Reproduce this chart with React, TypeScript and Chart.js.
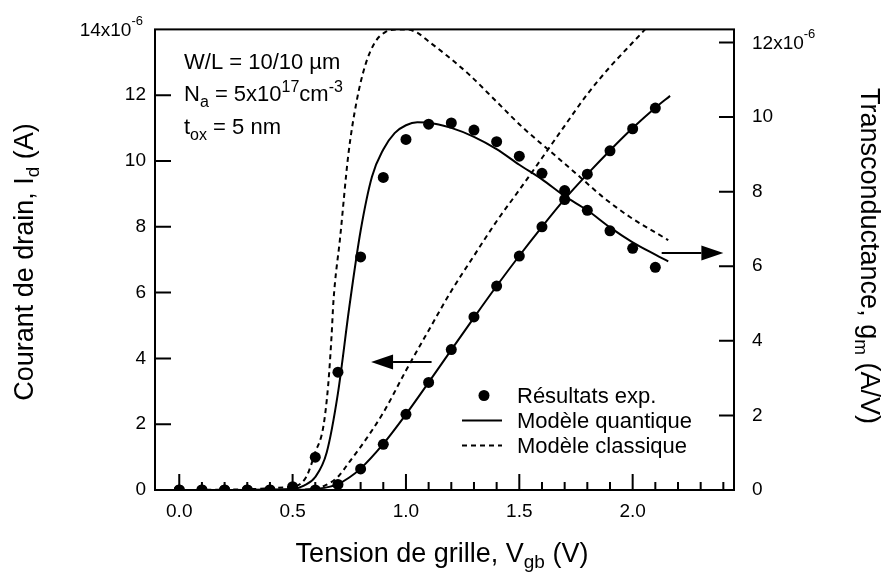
import React, { useEffect, useRef } from "react";
import { Chart, registerables } from "chart.js";

Chart.register(...registerables);

const FONT = '"Liberation Sans", Arial, Helvetica, sans-serif';

// ---------- data ----------
const expVgb = [0.0, 0.1, 0.2, 0.3, 0.4, 0.5, 0.6, 0.7, 0.8, 0.9, 1.0, 1.1, 1.2, 1.3, 1.4, 1.5, 1.6, 1.7, 1.8, 1.9, 2.0, 2.1];
const expId = [0, 0, 0, 0, 0, 0, 0, 0.17, 0.64, 1.39, 2.3, 3.27, 4.27, 5.26, 6.2, 7.11, 8.0, 8.83, 9.6, 10.31, 10.98, 11.61];
const expGm = [0, 0, 0, 0, 0, 0.09, 0.88, 3.16, 6.25, 8.38, 9.4, 9.81, 9.84, 9.65, 9.34, 8.95, 8.49, 8.03, 7.5, 6.95, 6.48, 5.97];

const quantIdVgb = [0, 0.5, 0.55, 0.6, 0.65, 0.7, 0.75, 0.8, 0.9, 1.0, 1.1, 1.2, 1.3, 1.4, 1.5, 1.6, 1.7, 1.8, 1.9, 2.0, 2.1, 2.165];
const quantId = [0, 0, 0.005, 0.03, 0.08, 0.18, 0.38, 0.65, 1.4, 2.3, 3.27, 4.26, 5.24, 6.2, 7.12, 8.0, 8.84, 9.6, 10.32, 11.0, 11.62, 11.98];

const quantGmVgb = [0, 0.5, 0.55, 0.6, 0.65, 0.7, 0.75, 0.8, 0.85, 0.9, 0.95, 1.0, 1.05, 1.1, 1.2, 1.3, 1.4, 1.5, 1.6, 1.7, 1.8, 1.9, 2.0, 2.1, 2.157];
const quantGm = [0, 0.03, 0.12, 0.35, 1.0, 2.6, 4.9, 6.95, 8.4, 9.13, 9.57, 9.78, 9.86, 9.85, 9.71, 9.47, 9.14, 8.72, 8.33, 7.88, 7.5, 7.04, 6.64, 6.31, 6.13];

const classIdVgb = [0, 0.5, 0.55, 0.6, 0.65, 0.7, 0.75, 0.8, 0.9, 1.0, 1.1, 1.2, 1.3, 1.4, 1.5, 1.6, 1.7, 1.8, 1.9, 2.0, 2.055];
const classId = [0, 0, 0.01, 0.04, 0.16, 0.4, 0.85, 1.31, 2.35, 3.63, 4.85, 6.05, 7.12, 8.17, 9.12, 10.09, 11.07, 12.03, 12.86, 13.6, 14.0];

const classGmVgb = [0, 0.5, 0.56, 0.6, 0.635, 0.657, 0.672, 0.68, 0.71, 0.746, 0.782, 0.82, 0.863, 0.907, 0.96, 1.0, 1.047, 1.106, 1.18, 1.282, 1.4, 1.517, 1.635, 1.753, 1.87, 1.988, 2.157];
const classGm = [0, 0.09, 0.35, 1.01, 1.68, 2.82, 4.15, 5.05, 6.79, 9.0, 10.41, 11.38, 12.0, 12.27, 12.35, 12.35, 12.27, 12.0, 11.65, 11.12, 10.41, 9.71, 9.09, 8.47, 7.85, 7.32, 6.7];

// ---------- ticks / labels ----------
const xMajorTicks = [0, 0.5, 1.0, 1.5, 2.0];
const xMinorTicks = [0.1, 0.2, 0.3, 0.4, 0.6, 0.7, 0.8, 0.9, 1.1, 1.2, 1.3, 1.4, 1.6, 1.7, 1.8, 1.9, 2.1, 2.2, 2.3, 2.4];
const idTicks = [0, 2, 4, 6, 8, 10, 12];
const idTopTick = 14;
const gmTicks = [0, 2, 4, 6, 8, 10];
const gmTopTick = 12;
const exponentLabel = "-6";

const xTitle = ["Tension de grille, V", "gb", " (V)"];
const yTitle = ["Courant de drain, I", "d", " (A)"];
const y2Title = ["Transconductance, g", "m", " (A/V)"];
const legendLabels = ["Résultats exp.", "Modèle quantique", "Modèle classique"];

type Seg = { t: string; s: number; dy?: number };

const pts = (xs: number[], ys: number[]) => xs.map((x, i) => ({ x, y: ys[i] }));

function segWidth(ctx: CanvasRenderingContext2D, segs: Seg[]) {
  let w = 0;
  for (const g of segs) {
    ctx.font = `${g.s}px ${FONT}`;
    w += ctx.measureText(g.t).width;
  }
  return w;
}

function drawRich(ctx: CanvasRenderingContext2D, segs: Seg[], x: number, y: number, align: "left" | "center" | "right") {
  const w = segWidth(ctx, segs);
  let cx = align === "left" ? x : align === "center" ? x - w / 2 : x - w;
  ctx.textAlign = "left";
  ctx.textBaseline = "alphabetic";
  for (const g of segs) {
    ctx.font = `${g.s}px ${FONT}`;
    ctx.fillText(g.t, cx, y + (g.dy || 0));
    cx += ctx.measureText(g.t).width;
  }
}

function arrow(ctx: CanvasRenderingContext2D, x0: number, y0: number, x1: number, y1: number) {
  const dir = Math.sign(x1 - x0);
  const hl = 22;
  const hw = 7.5;
  ctx.beginPath();
  ctx.moveTo(x0, y0);
  ctx.lineTo(x1 - dir * hl, y1);
  ctx.stroke();
  ctx.beginPath();
  ctx.moveTo(x1, y1);
  ctx.lineTo(x1 - dir * hl, y1 - hw);
  ctx.lineTo(x1 - dir * hl, y1 + hw);
  ctx.closePath();
  ctx.fill();
}

const decor = {
  id: "decor",
  afterDraw(chart: any) {
    const { ctx, chartArea: a, scales } = chart;
    const sx = scales.x;
    const sy = scales.y;
    const sy2 = scales.y2;
    ctx.save();
    ctx.strokeStyle = "#000";
    ctx.fillStyle = "#000";
    ctx.lineWidth = 2;
    ctx.setLineDash([]);
    // frame
    ctx.strokeRect(a.left, a.top, a.right - a.left, a.bottom - a.top);
    // tick marks (inward)
    ctx.beginPath();
    for (const v of idTicks) {
      const p = sy.getPixelForValue(v);
      ctx.moveTo(a.left, p);
      ctx.lineTo(a.left + 16, p);
    }
    for (const v of [...gmTicks, gmTopTick]) {
      const p = sy2.getPixelForValue(v);
      ctx.moveTo(a.right, p);
      ctx.lineTo(a.right - 15, p);
    }
    for (const v of xMajorTicks) {
      const p = sx.getPixelForValue(v);
      ctx.moveTo(p, a.bottom);
      ctx.lineTo(p, a.bottom - 16);
    }
    for (const v of xMinorTicks) {
      const p = sx.getPixelForValue(v);
      ctx.moveTo(p, a.bottom);
      ctx.lineTo(p, a.bottom - 8);
    }
    ctx.stroke();

    // top tick labels with exponent
    const pTop = sy.getPixelForValue(idTopTick);
    drawRich(ctx, [{ t: `${idTopTick}x10`, s: 19 }, { t: exponentLabel, s: 13, dy: -11 }], a.left - 12, pTop + 7, "right");
    const pTop2 = sy2.getPixelForValue(gmTopTick);
    drawRich(ctx, [{ t: `${gmTopTick}x10`, s: 19 }, { t: exponentLabel, s: 13, dy: -11 }], a.right + 18, pTop2 + 7, "left");

    // axis titles
    drawRich(ctx, [{ t: xTitle[0], s: 27 }, { t: xTitle[1], s: 19, dy: 6 }, { t: xTitle[2], s: 27 }], 442, 562, "center");
    ctx.save();
    ctx.translate(33, 262);
    ctx.rotate(-Math.PI / 2);
    drawRich(ctx, [{ t: yTitle[0], s: 27 }, { t: yTitle[1], s: 19, dy: 6 }, { t: yTitle[2], s: 27 }], 0, 0, "center");
    ctx.restore();
    ctx.save();
    ctx.translate(861, 256);
    ctx.rotate(Math.PI / 2);
    drawRich(ctx, [{ t: y2Title[0], s: 27 }, { t: y2Title[1], s: 19, dy: 6 }, { t: y2Title[2], s: 27 }], 0, 0, "center");
    ctx.restore();

    // device annotation
    const tx = a.left + 29;
    drawRich(ctx, [{ t: "W/L = 10/10 µm", s: 22 }], tx, 69, "left");
    drawRich(ctx, [
      { t: "N", s: 22 }, { t: "a", s: 16, dy: 6 }, { t: " = 5x10", s: 22 },
      { t: "17", s: 16, dy: -9 }, { t: "cm", s: 22 }, { t: "-3", s: 16, dy: -9 },
    ], tx, 101, "left");
    drawRich(ctx, [{ t: "t", s: 22 }, { t: "ox", s: 16, dy: 6 }, { t: " = 5 nm", s: 22 }], tx, 134, "left");

    // arrows (data coordinates on current axis)
    const ay1 = sy.getPixelForValue(3.89);
    arrow(ctx, sx.getPixelForValue(1.113), ay1, sx.getPixelForValue(0.846), ay1);
    const ay2 = sy.getPixelForValue(7.2);
    arrow(ctx, sx.getPixelForValue(2.128), ay2, sx.getPixelForValue(2.4), ay2);

    // legend
    const lx = 462, lx2 = 502, dotX = 484, textX = 517;
    const rows = [403, 428, 453];
    ctx.beginPath();
    ctx.arc(dotX, rows[0] - 7.5, 5.5, 0, Math.PI * 2);
    ctx.fill();
    ctx.beginPath();
    ctx.moveTo(lx, rows[1] - 7.5);
    ctx.lineTo(lx2, rows[1] - 7.5);
    ctx.stroke();
    ctx.setLineDash([5, 4]);
    ctx.beginPath();
    ctx.moveTo(lx, rows[2] - 7.5);
    ctx.lineTo(lx2, rows[2] - 7.5);
    ctx.stroke();
    ctx.setLineDash([]);
    legendLabels.forEach((l, i) => drawRich(ctx, [{ t: l, s: 22 }], textX, rows[i], "left"));

    ctx.restore();
  },
};

export default function App() {
  const ref = useRef<HTMLCanvasElement>(null);
  useEffect(() => {
    const canvas = ref.current;
    if (!canvas) return;
    const tickFont = { family: FONT, size: 19 };
    const dotStyle = { pointRadius: 5.5, pointHoverRadius: 5.5, pointBackgroundColor: "#000", pointBorderWidth: 0, showLine: false };
    const lineStyle = { borderColor: "#000", borderWidth: 2, pointRadius: 0, showLine: true, cubicInterpolationMode: "monotone" as const, fill: false };
    const chart = new Chart(canvas, {
      type: "scatter",
      data: {
        datasets: [
          { label: "exp Id", data: pts(expVgb, expId), yAxisID: "y", ...dotStyle },
          { label: "exp gm", data: pts(expVgb, expGm), yAxisID: "y2", ...dotStyle },
          { label: "quant Id", data: pts(quantIdVgb, quantId), yAxisID: "y", ...lineStyle },
          { label: "quant gm", data: pts(quantGmVgb, quantGm), yAxisID: "y2", ...lineStyle },
          { label: "class Id", data: pts(classIdVgb, classId), yAxisID: "y", ...lineStyle, borderDash: [5, 4] },
          { label: "class gm", data: pts(classGmVgb, classGm), yAxisID: "y2", ...lineStyle, borderDash: [5, 4] },
        ],
      },
      options: {
        responsive: false,
        animation: false,
        devicePixelRatio: 1,
        layout: { padding: { top: 23, left: 0, right: 0, bottom: 0 } },
        plugins: { legend: { display: false }, tooltip: { enabled: false } },
        scales: {
          x: {
            type: "linear",
            position: "bottom",
            min: -0.107,
            max: 2.447,
            afterBuildTicks: (s: any) => { s.ticks = xMajorTicks.map((v) => ({ value: v })); },
            afterFit: (s: any) => { s.height = 86; },
            grid: { display: false, drawTicks: false },
            border: { display: false },
            ticks: { font: tickFont, color: "#000", padding: 10, maxRotation: 0, autoSkip: false, callback: (v: any) => Number(v).toFixed(1) },
          },
          y: {
            type: "linear",
            position: "left",
            min: 0,
            max: 14,
            afterBuildTicks: (s: any) => { s.ticks = idTicks.map((v) => ({ value: v })); },
            afterFit: (s: any) => { s.width = 155; },
            grid: { display: false, drawTicks: false },
            border: { display: false },
            ticks: { font: tickFont, color: "#000", padding: 9, autoSkip: false, callback: (v: any) => String(v) },
          },
          y2: {
            type: "linear",
            position: "right",
            min: 0,
            max: 12.35,
            afterBuildTicks: (s: any) => { s.ticks = gmTicks.map((v) => ({ value: v })); },
            afterFit: (s: any) => { s.width = 149; },
            grid: { display: false, drawTicks: false },
            border: { display: false },
            ticks: { font: tickFont, color: "#000", padding: 18, autoSkip: false, callback: (v: any) => String(v) },
          },
        },
      },
      plugins: [decor],
    });
    return () => chart.destroy();
  }, []);
  return (
    <div style={{ position: "fixed", left: 0, top: 0, width: 883, height: 576, background: "#fff" }}>
      <canvas ref={ref} width={883} height={576} style={{ display: "block", width: 883, height: 576 }} />
    </div>
  );
}
